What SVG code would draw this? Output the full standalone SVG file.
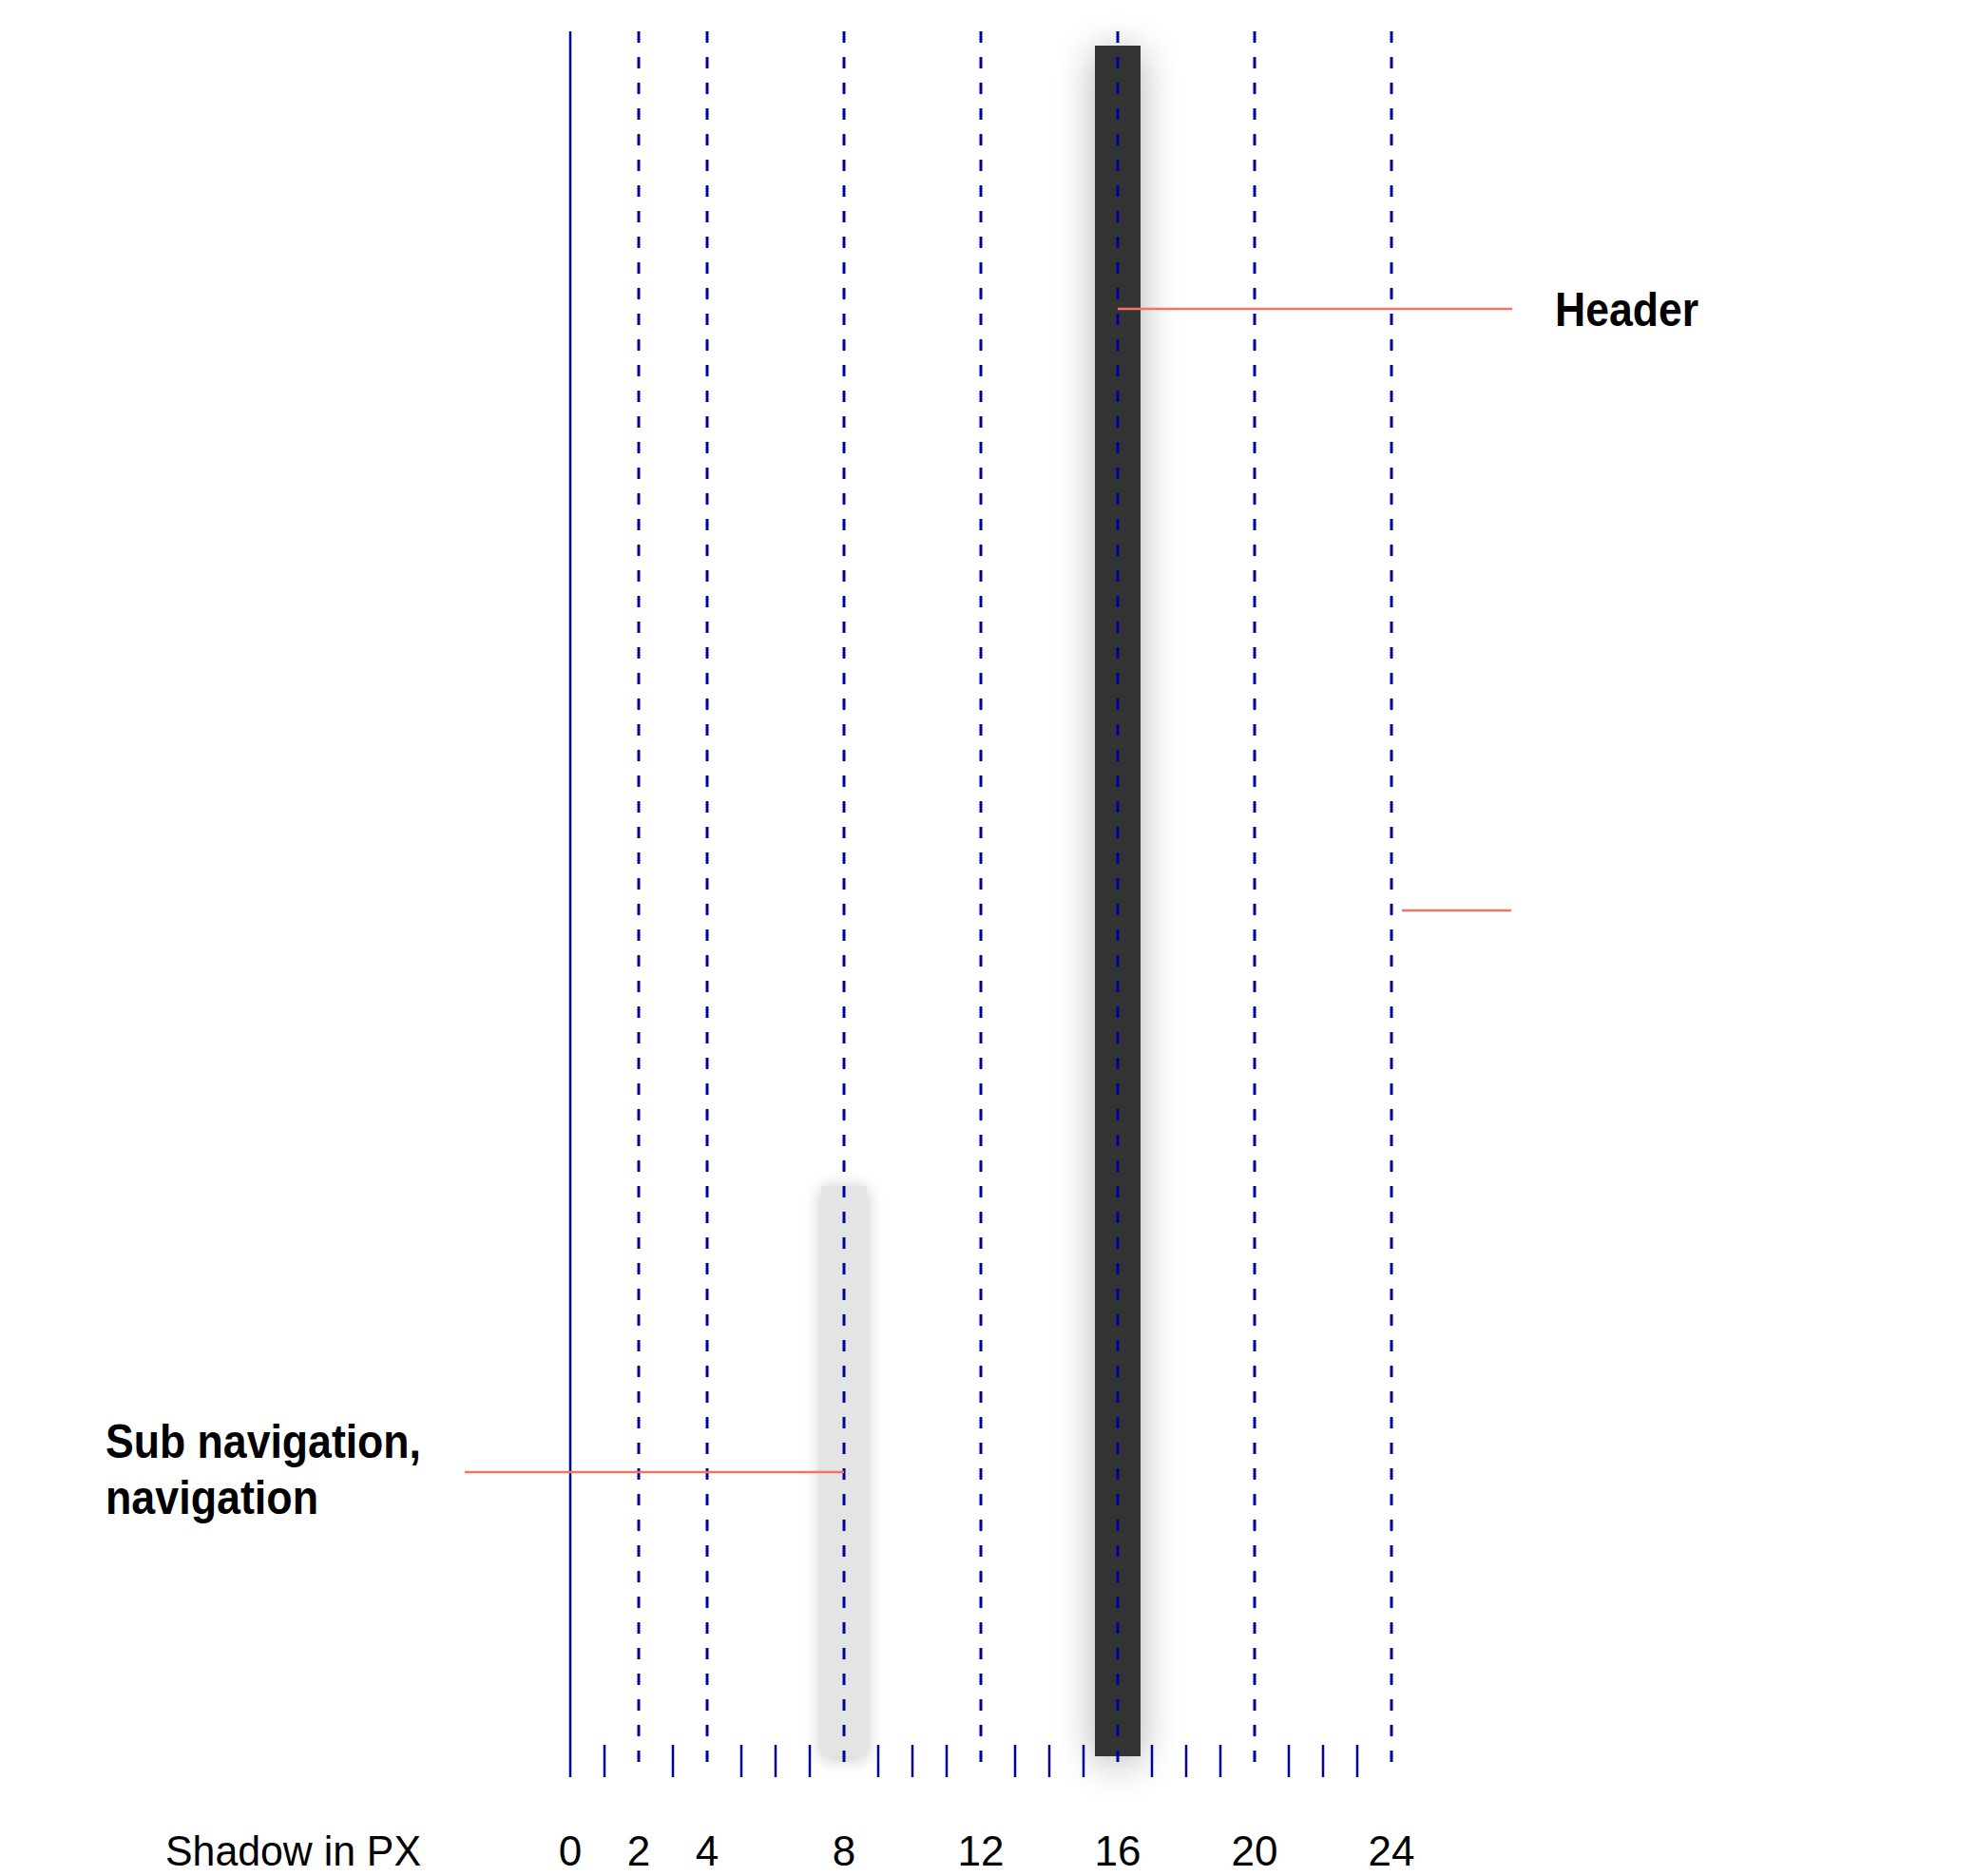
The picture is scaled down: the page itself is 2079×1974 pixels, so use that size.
<svg xmlns="http://www.w3.org/2000/svg" width="2079" height="1974" viewBox="0 0 2079 1974">
<style>
.grid{stroke:#00009a;stroke-width:3;stroke-dasharray:12 15;fill:none}
.axis{stroke:#00009a;stroke-width:2.5;fill:none}
.tick{stroke:#00009a;stroke-width:2.5}
.lead{stroke:#f27563;stroke-width:2.5;fill:none}
.lbl{font-family:"Liberation Sans",Arial,sans-serif;font-size:45px;fill:#000}
.num{font-family:"Liberation Sans",Arial,sans-serif;font-size:44px;fill:#000;text-anchor:middle}
.bold{font-family:"Liberation Sans",Arial,sans-serif;font-size:50px;font-weight:bold;fill:#000}
</style>
<defs>
<filter id="shBig" x="-300%" y="-10%" width="700%" height="120%">
<feGaussianBlur stdDeviation="21"/>
</filter>
<filter id="shSmall" x="-150%" y="-20%" width="400%" height="140%">
<feGaussianBlur stdDeviation="9"/>
</filter>
</defs>
<rect width="2079" height="1974" fill="#fff"/>
<g id="subnav-bar">
<rect x="864" y="1250" width="48" height="600" fill="#000" opacity="0.24" filter="url(#shSmall)"/>
<rect x="864" y="1248" width="48" height="600" fill="#e4e4e4"/>
</g>
<g id="header-bar">
<rect x="1152" y="54" width="48" height="1800" fill="#000" opacity="0.3" filter="url(#shBig)"/>
<rect x="1152" y="48" width="48" height="1800" fill="#333333"/>
</g>
<g id="scale">
<line class="axis" x1="600" y1="33" x2="600" y2="1870"/>
<line class="grid" x1="672" y1="33" x2="672" y2="1854"/>
<line class="grid" x1="744" y1="33" x2="744" y2="1854"/>
<line class="grid" x1="888" y1="33" x2="888" y2="1854"/>
<line class="grid" x1="1032" y1="33" x2="1032" y2="1854"/>
<line class="grid" x1="1176" y1="33" x2="1176" y2="1854"/>
<line class="grid" x1="1320" y1="33" x2="1320" y2="1854"/>
<line class="grid" x1="1464" y1="33" x2="1464" y2="1854"/>
<g class="tick">
<line x1="636" y1="1836" x2="636" y2="1870"/>
<line x1="708" y1="1836" x2="708" y2="1870"/>
<line x1="780" y1="1836" x2="780" y2="1870"/>
<line x1="816" y1="1836" x2="816" y2="1870"/>
<line x1="852" y1="1836" x2="852" y2="1870"/>
<line x1="924" y1="1836" x2="924" y2="1870"/>
<line x1="960" y1="1836" x2="960" y2="1870"/>
<line x1="996" y1="1836" x2="996" y2="1870"/>
<line x1="1068" y1="1836" x2="1068" y2="1870"/>
<line x1="1104" y1="1836" x2="1104" y2="1870"/>
<line x1="1140" y1="1836" x2="1140" y2="1870"/>
<line x1="1212" y1="1836" x2="1212" y2="1870"/>
<line x1="1248" y1="1836" x2="1248" y2="1870"/>
<line x1="1284" y1="1836" x2="1284" y2="1870"/>
<line x1="1356" y1="1836" x2="1356" y2="1870"/>
<line x1="1392" y1="1836" x2="1392" y2="1870"/>
<line x1="1428" y1="1836" x2="1428" y2="1870"/>
</g>
</g>
<g id="connectors">
<line class="lead" x1="1176" y1="325" x2="1591" y2="325"/>
<line class="lead" x1="1475" y1="958" x2="1590" y2="958"/>
<line class="lead" x1="489" y1="1549" x2="888" y2="1549"/>
</g>
<g id="label-header">
<text class="bold" x="1636" y="343" textLength="151" lengthAdjust="spacingAndGlyphs">Header</text>
</g>
<g id="label-subnav">
<text class="bold" x="111" y="1534" textLength="332" lengthAdjust="spacingAndGlyphs">Sub navigation,</text>
<text class="bold" x="111" y="1593" textLength="224" lengthAdjust="spacingAndGlyphs">navigation</text>
</g>
<g id="axis-labels">
<text class="lbl" x="174" y="1963" textLength="269" lengthAdjust="spacingAndGlyphs">Shadow in PX</text>
<text class="num" x="600" y="1963">0</text>
<text class="num" x="672" y="1963">2</text>
<text class="num" x="744" y="1963">4</text>
<text class="num" x="888" y="1963">8</text>
<text class="num" x="1032" y="1963">12</text>
<text class="num" x="1176" y="1963">16</text>
<text class="num" x="1320" y="1963">20</text>
<text class="num" x="1464" y="1963">24</text>
</g>
</svg>
